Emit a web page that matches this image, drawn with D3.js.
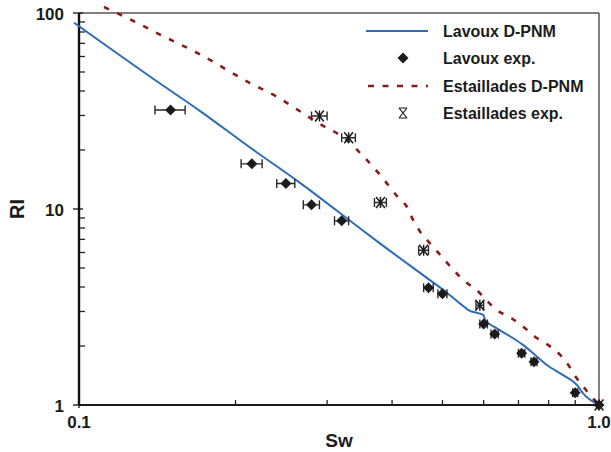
<!DOCTYPE html>
<html>
<head>
<meta charset="utf-8">
<script src="https://cdn.jsdelivr.net/npm/d3@7"></script>
<style>
  html, body { margin: 0; padding: 0; background: #fff; }
  svg { display: block; font-family: "Liberation Sans", Arial, sans-serif; }
</style>
</head>
<body>
<svg id="chart" width="611" height="452"></svg>
<script>
// Resistivity index RI versus water saturation Sw (log-log)

// Lavoux: D-PNM simulation curve
const lavouxModelSw = [0.0978, 0.140, 0.171, 0.2132, 0.2661, 0.347, 0.379, 0.470, 0.502, 0.540, 0.561, 0.599, 0.604, 0.636, 0.684, 0.715, 0.759, 0.794, 0.853, 0.907, 0.931, 1.0];
const lavouxModelRI = [89.2, 45.5, 31.6, 20.6, 13.6, 7.97, 6.68, 4.39, 3.86, 3.30, 3.05, 2.88, 2.72, 2.46, 2.19, 2.02, 1.77, 1.60, 1.42, 1.265, 1.15, 1.0];

// Lavoux: experimental points (with Sw uncertainty)
const lavouxExpSw  = [0.15, 0.215, 0.25, 0.28, 0.32, 0.47, 0.50, 0.60, 0.63, 0.71, 0.75, 0.90, 1.0];
const lavouxExpRI  = [32.0, 17.0, 13.5, 10.5, 8.7, 3.97, 3.70, 2.59, 2.30, 1.835, 1.66, 1.156, 1.0];
const lavouxExpErr = [0.01, 0.01, 0.01, 0.01, 0.01, 0.01, 0.01, 0.01, 0.01, 0.01, 0.01, 0.01, 0];

// Estaillades: D-PNM simulation curve
const estModelSw = [0.1117, 0.127, 0.145, 0.1694, 0.2132, 0.240, 0.2637, 0.288, 0.327, 0.352, 0.382, 0.412, 0.427, 0.439, 0.453, 0.473, 0.4985, 0.525, 0.5527, 0.582, 0.608, 0.636, 0.679, 0.715, 0.753, 0.799, 0.842, 0.873, 0.906, 0.933, 0.961, 1.0];
const estModelRI = [107.3, 91.3, 76.3, 62.3, 43.9, 37.4, 32.0, 27.5, 22.5, 18.6, 14.6, 11.35, 10.27, 8.79, 7.66, 6.68, 5.71, 4.88, 4.26, 3.86, 3.41, 3.05, 2.77, 2.51, 2.23, 2.02, 1.80, 1.60, 1.368, 1.24, 1.125, 1.0];

// Estaillades: experimental points
const estExpSw  = [0.29, 0.33, 0.38, 0.46, 0.59, 1.0];
const estExpRI  = [29.8, 23.1, 10.8, 6.16, 3.23, 1.0];
const estExpErr = [0.01, 0.01, 0.01, 0.01, 0.01, 0];

// Axis ticks
const xMajor = [0.1, 1.0];
const xMajorLabels = ["0.1", "1.0"];
const xMinor = [0.2, 0.3, 0.4, 0.5, 0.6, 0.7, 0.8, 0.9];
const yMajor = [1, 10, 100];
const yMajorLabels = ["1", "10", "100"];
const yMinor = [2, 3, 4, 5, 6, 7, 8, 9, 20, 30, 40, 50, 60, 70, 80, 90];

const legendLabels = ["Lavoux D-PNM", "Lavoux exp.", "Estaillades D-PNM", "Estaillades exp."];

const BLUE = "#2b6db8";
const RED = "#8b1a1a";
const INK = "#1b1b1b";

const svg = d3.select("#chart");
const x = d3.scaleLog().domain([0.1, 1.0]).range([79, 599]);
const y = d3.scaleLog().domain([1, 100]).range([405, 13]);

// frame: top and right borders in grey
svg.append("line").attr("x1", x(0.1)).attr("x2", x(1.0)).attr("y1", y(100)).attr("y2", y(100))
  .attr("stroke", "#555").attr("stroke-width", 1.5);
svg.append("line").attr("x1", x(1.0)).attr("x2", x(1.0)).attr("y1", y(100)).attr("y2", y(1))
  .attr("stroke", "#555").attr("stroke-width", 1.5);

// minor ticks pointing inward
svg.append("g").selectAll("line").data(xMinor).join("line")
  .attr("x1", d => x(d)).attr("x2", d => x(d))
  .attr("y1", y(1)).attr("y2", y(1) - 5)
  .attr("stroke", "#222").attr("stroke-width", 1.3);
svg.append("g").selectAll("line").data(yMinor).join("line")
  .attr("x1", x(0.1)).attr("x2", x(0.1) + 6)
  .attr("y1", d => y(d)).attr("y2", d => y(d))
  .attr("stroke", "#222").attr("stroke-width", 1.3);

// major ticks crossing the axes
svg.append("g").selectAll("line").data(yMajor).join("line")
  .attr("x1", x(0.1) - 6).attr("x2", x(0.1) + 4)
  .attr("y1", d => y(d)).attr("y2", d => y(d))
  .attr("stroke", "#222").attr("stroke-width", 1.4);
svg.append("g").selectAll("line").data(xMajor).join("line")
  .attr("x1", d => x(d)).attr("x2", d => x(d))
  .attr("y1", y(1) + 3).attr("y2", y(1) - 4)
  .attr("stroke", "#222").attr("stroke-width", 1.4);

// axes lines
svg.append("line").attr("x1", x(0.1)).attr("x2", x(1.0)).attr("y1", y(1)).attr("y2", y(1))
  .attr("stroke", "#1a1a1a").attr("stroke-width", 1.8);
svg.append("line").attr("x1", x(0.1)).attr("x2", x(0.1)).attr("y1", y(100)).attr("y2", y(1))
  .attr("stroke", "#111").attr("stroke-width", 2.4);

// tick labels
svg.append("g").selectAll("text").data(yMajor).join("text")
  .attr("x", 64).attr("y", d => y(d) + 7)
  .attr("text-anchor", "end").attr("font-size", 17).attr("font-weight", "bold").attr("fill", INK)
  .text((d, i) => yMajorLabels[i]);
svg.append("g").selectAll("text").data(xMajor).join("text")
  .attr("x", d => x(d)).attr("y", 428)
  .attr("text-anchor", "middle").attr("font-size", 17).attr("font-weight", "bold").attr("fill", INK)
  .text((d, i) => xMajorLabels[i]);

// axis titles
svg.append("text").attr("x", (x(0.1) + x(1.0)) / 2).attr("y", 447)
  .attr("text-anchor", "middle").attr("font-size", 19).attr("font-weight", "bold").attr("fill", INK)
  .text("Sw");
svg.append("text").attr("transform", `translate(24,${(y(1) + y(100)) / 2}) rotate(-90)`)
  .attr("text-anchor", "middle").attr("font-size", 20).attr("font-weight", "bold").attr("fill", INK)
  .text("RI");

// simulation curves
const line = d3.line().x(d => x(d[0])).y(d => y(d[1])).curve(d3.curveMonotoneX);
svg.append("path").datum(d3.zip(lavouxModelSw, lavouxModelRI))
  .attr("d", line).attr("fill", "none").attr("stroke", BLUE).attr("stroke-width", 2);
svg.append("path").datum(d3.zip(estModelSw, estModelRI))
  .attr("d", line).attr("fill", "none").attr("stroke", RED).attr("stroke-width", 2.6)
  .attr("stroke-dasharray", "5.5,9");

// marker shapes
const diamondPath = r => `M0,${-r}L${r},0L0,${r}L${-r},0Z`;
const starPath = r => `M${-r * 0.8},${-r}L${r * 0.8},${r}M${r * 0.8},${-r}L${-r * 0.8},${r}M0,${-r}L0,${r}`;

function errorBars(g, sw, ri, err) {
  const data = d3.zip(sw, ri, err).filter(d => d[2] > 0);
  const eg = g.append("g").attr("stroke", "#2a2a2a").attr("stroke-width", 1.4).attr("fill", "none");
  eg.selectAll("path").data(data).join("path")
    .attr("d", d => {
      const x0 = x(d[0] - d[2]), x1 = x(d[0] + d[2]), yy = y(d[1]);
      return `M${x0},${yy}L${x1},${yy}M${x0},${yy - 4.5}L${x0},${yy + 4.5}M${x1},${yy - 4.5}L${x1},${yy + 4.5}`;
    });
}

// Lavoux experimental
const gL = svg.append("g");
errorBars(gL, lavouxExpSw, lavouxExpRI, lavouxExpErr);
gL.append("g").selectAll("path").data(d3.zip(lavouxExpSw, lavouxExpRI)).join("path")
  .attr("transform", d => `translate(${x(d[0])},${y(d[1])})`)
  .attr("d", diamondPath(5.5)).attr("fill", INK);

// Estaillades experimental
const gE = svg.append("g");
errorBars(gE, estExpSw, estExpRI, estExpErr);
gE.append("g").selectAll("path").data(d3.zip(estExpSw, estExpRI)).join("path")
  .attr("transform", d => `translate(${x(d[0])},${y(d[1])})`)
  .attr("d", starPath(5.5)).attr("fill", "none").attr("stroke", INK).attr("stroke-width", 1.5);

// legend
const legend = svg.append("g");
const rowY = [31, 58, 86, 113];
legend.append("line").attr("x1", 366).attr("x2", 428).attr("y1", rowY[0]).attr("y2", rowY[0])
  .attr("stroke", BLUE).attr("stroke-width", 2);
legend.append("path").attr("transform", `translate(403,${rowY[1]})`)
  .attr("d", diamondPath(5.5)).attr("fill", INK);
legend.append("line").attr("x1", 368).attr("x2", 428).attr("y1", rowY[2]).attr("y2", rowY[2])
  .attr("stroke", RED).attr("stroke-width", 2.6).attr("stroke-dasharray", "6,8.5");
legend.append("path").attr("transform", `translate(403,${rowY[3]})`)
  .attr("d", `M-4,-5L4,5M4,-5L-4,5M-4,-5L4,-5M-4,5L4,5`)
  .attr("fill", "none").attr("stroke", INK).attr("stroke-width", 1.2);
legend.selectAll("text").data(legendLabels).join("text")
  .attr("x", 443).attr("y", (d, i) => rowY[i] + 6)
  .attr("font-size", 16).attr("font-weight", "bold").attr("fill", INK)
  .text(d => d);
</script>
</body>
</html>
